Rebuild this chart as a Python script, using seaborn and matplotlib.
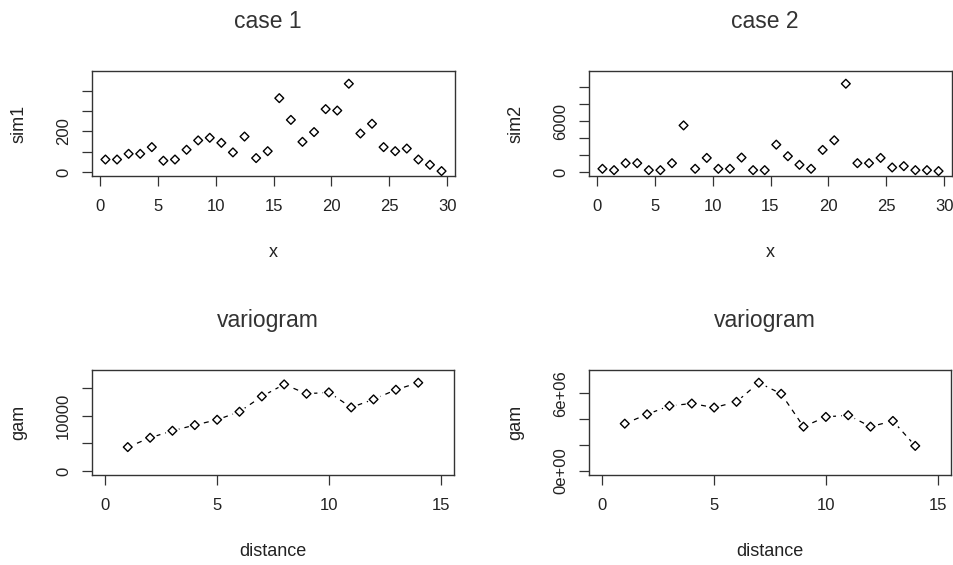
import numpy as np
import pandas as pd
import matplotlib
matplotlib.use('Agg')
import matplotlib.pyplot as plt
import seaborn as sns

# simulated series (x = cell centres)
x_sim = [0.5, 1.5, 2.5, 3.5, 4.5, 5.5, 6.5, 7.5, 8.5, 9.5,
         10.5, 11.5, 12.5, 13.5, 14.5, 15.5, 16.5, 17.5, 18.5, 19.5,
         20.5, 21.5, 22.5, 23.5, 24.5, 25.5, 26.5, 27.5, 28.5, 29.5]
sim1 = [62, 62, 90, 90, 123, 56, 62, 110, 156, 169,
        144, 97, 175, 69, 103, 364, 257, 149, 197, 310,
        303, 435, 190, 238, 123, 103, 116, 62, 36, 5]
sim2 = [390, 230, 1050, 1050, 230, 230, 1050, 5490, 390, 1670,
        390, 390, 1710, 230, 230, 3230, 1870, 860, 390, 2610,
        3740, 10390, 1050, 1050, 1670, 545, 700, 230, 230, 120]

# empirical variograms
distance = [1, 2, 3, 4, 5, 6, 7, 8, 9, 10, 11, 12, 13, 14]
gam1 = [4320, 6000, 7260, 8280, 9240, 10680, 13440, 15600, 13920, 14160,
        11460, 12900, 14640, 15900]
gam2 = [3.65e6, 4.37e6, 5.02e6, 5.20e6, 4.89e6, 5.33e6, 6.80e6, 5.95e6,
        3.42e6, 4.17e6, 4.30e6, 3.42e6, 3.86e6, 1.94e6]

sim_xticks = [0, 5, 10, 15, 20, 25, 30]
gam_xticks = [0, 5, 10, 15]
sim1_yticks = [0, 100, 200, 300, 400]
sim1_ylabels = ['0', '', '200', '', '']
sim2_yticks = [0, 2000, 4000, 6000, 8000, 10000]
sim2_ylabels = ['0', '', '', '6000', '', '']
gam1_yticks = [0, 5000, 10000, 15000]
gam1_ylabels = ['0', '', '10000', '']
gam2_yticks = [0, 2e6, 4e6, 6e6]
gam2_ylabels = ['0e+00', '', '', '6e+06']

sns.set_style('white')
plt.rcParams['font.family'] = ['Liberation Sans', 'DejaVu Sans']

W, H = 954, 565
fig = plt.figure(figsize=(W / 100, H / 100), dpi=100)

def box(left, top, right, bottom):
    return fig.add_axes([left / W, 1 - bottom / H, (right - left) / W, (bottom - top) / H])

def panel(ax, xs, ys, title, xlab, ylab, xlim, xticks, yticks, ylabels, joined):
    df = pd.DataFrame({'x': xs, 'y': ys})
    if joined:
        sns.lineplot(data=df, x='x', y='y', ax=ax, color='black', lw=0.9,
                     linestyle=(0, (4, 4)), errorbar=None, zorder=2)
        sns.scatterplot(data=df, x='x', y='y', ax=ax, color='white', s=95,
                        marker='o', linewidth=0, zorder=3)
    sns.scatterplot(data=df, x='x', y='y', ax=ax, color='black', marker='D',
                    s=20, linewidth=1.0, zorder=4)
    pts = ax.collections[-1]
    pts.set_facecolor('none')
    pts.set_edgecolor('black')

    top = 1.1 * max(ys)
    ax.set_ylim(-0.04 * top, top * 1.04)
    ax.set_xlim(xlim)
    ax.set_xticks(xticks)
    ax.set_xticklabels([str(t) for t in xticks])
    ax.set_yticks(yticks)
    ax.set_yticklabels(ylabels, rotation=90, va='center')

    for s in ax.spines.values():
        s.set_visible(True)
        s.set_color('#333333')
        s.set_linewidth(1.0)
    ax.tick_params(axis='both', direction='out', length=7.2, width=0.9,
                   color='#333333', labelsize=12, labelcolor='#222222')
    ax.tick_params(axis='x', pad=9.5, bottom=True)
    ax.tick_params(axis='y', pad=8, left=True)

    ax.set_xlabel(xlab, fontsize=13, color='#222222', va='center')
    ax.xaxis.set_label_coords(0.5, -0.73)
    ax.set_ylabel(ylab, fontsize=13, color='#222222', va='center')
    ax.yaxis.set_label_coords(-0.201, 0.5)
    ax.set_title(title, fontsize=16.5, color='#333333', x=0.485, y=1.47,
                 va='center', pad=0)

ax1 = box(92, 71, 455, 176)
ax2 = box(589, 71, 952, 176)
ax3 = box(92, 370, 454, 475)
ax4 = box(589, 370, 951, 475)

panel(ax1, x_sim, sim1, 'case 1', 'x', 'sim1', (-0.66, 30.66), sim_xticks,
      sim1_yticks, sim1_ylabels, False)
panel(ax2, x_sim, sim2, 'case 2', 'x', 'sim2', (-0.66, 30.66), sim_xticks,
      sim2_yticks, sim2_ylabels, False)
panel(ax3, distance, gam1, 'variogram', 'distance', 'gam', (-0.6, 15.6), gam_xticks,
      gam1_yticks, gam1_ylabels, True)
panel(ax4, distance, gam2, 'variogram', 'distance', 'gam', (-0.6, 15.6), gam_xticks,
      gam2_yticks, gam2_ylabels, True)

fig.savefig('out.png', dpi=100)
